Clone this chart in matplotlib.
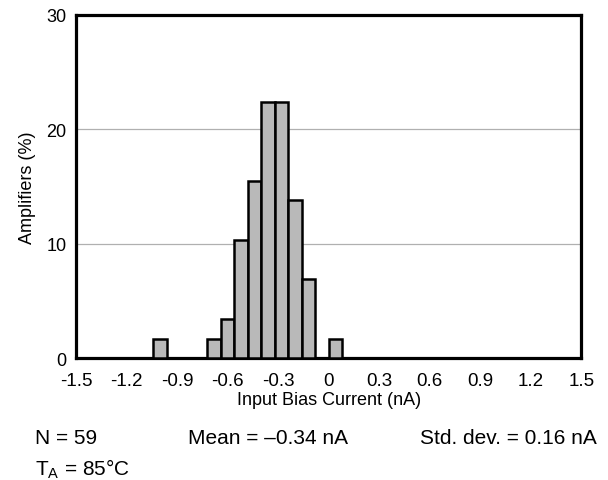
#!/usr/bin/env python3
import matplotlib
matplotlib.use("Agg")
import matplotlib.pyplot as plt
import numpy as np

plt.rcParams["font.family"] = ["Liberation Sans", "DejaVu Sans"]
plt.rcParams["axes.unicode_minus"] = False

# histogram bins (nA) and share of amplifiers (%)
BIN_CENTERS = [-1.00, -0.68, -0.60, -0.52, -0.44, -0.36, -0.28, -0.20, -0.12, 0.04]
PERCENT = [1.72, 1.72, 3.45, 10.34, 15.52, 22.41, 22.41, 13.79, 6.90, 1.72]
BIN_WIDTH = 0.08

X_TICKS = [-1.5, -1.2, -0.9, -0.6, -0.3, 0, 0.3, 0.6, 0.9, 1.2, 1.5]
X_TICK_LABELS = ["-1.5", "-1.2", "-0.9", "-0.6", "-0.3", "0", "0.3", "0.6", "0.9", "1.2", "1.5"]
Y_TICKS = [0, 10, 20, 30]


def main() -> None:
    fig = plt.figure(figsize=(6.08, 4.81), dpi=100)
    ax = fig.add_axes([0.125, 0.253, 0.831, 0.714])

    ax.bar(BIN_CENTERS, PERCENT, width=BIN_WIDTH, color="#b9b9b9",
           edgecolor="black", linewidth=1.8, zorder=3)

    ax.set_xlim(-1.5, 1.5)
    ax.set_ylim(0, 30)
    ax.set_xticks(X_TICKS)
    ax.set_xticklabels(X_TICK_LABELS, fontsize=13.5)
    ax.set_yticks(Y_TICKS)
    ax.set_yticklabels([str(v) for v in Y_TICKS], fontsize=13)
    ax.tick_params(axis="both", length=0)
    ax.tick_params(axis="x", pad=10)
    ax.tick_params(axis="y", pad=7)

    for v in Y_TICKS[1:-1]:
        ax.axhline(v, color="#b0b0b0", linewidth=0.9, zorder=1)

    for sp in ax.spines.values():
        sp.set_linewidth(2.3)
        sp.set_color("black")

    ax.set_xlabel("Input Bias Current (nA)", fontsize=13, labelpad=1)
    ax.set_ylabel("Amplifiers (%)", fontsize=13, labelpad=7)

    fs = 15
    y1 = 1 - 444 / 481
    y2 = 1 - 475 / 481
    fig.text(35 / 608, y1, "N = 59", fontsize=fs, va="baseline", ha="left")
    fig.text(188 / 608, y1, "Mean = \u20130.34 nA", fontsize=fs, va="baseline", ha="left")
    fig.text(420 / 608, y1, "Std. dev. = 0.16 nA", fontsize=fs, va="baseline", ha="left")
    fig.text(35 / 608, y2, r"T$_\mathregular{A}$ = 85°C", fontsize=fs, va="baseline", ha="left")

    fig.savefig("out.png", dpi=100)
    plt.close(fig)


if __name__ == "__main__":
    main()
